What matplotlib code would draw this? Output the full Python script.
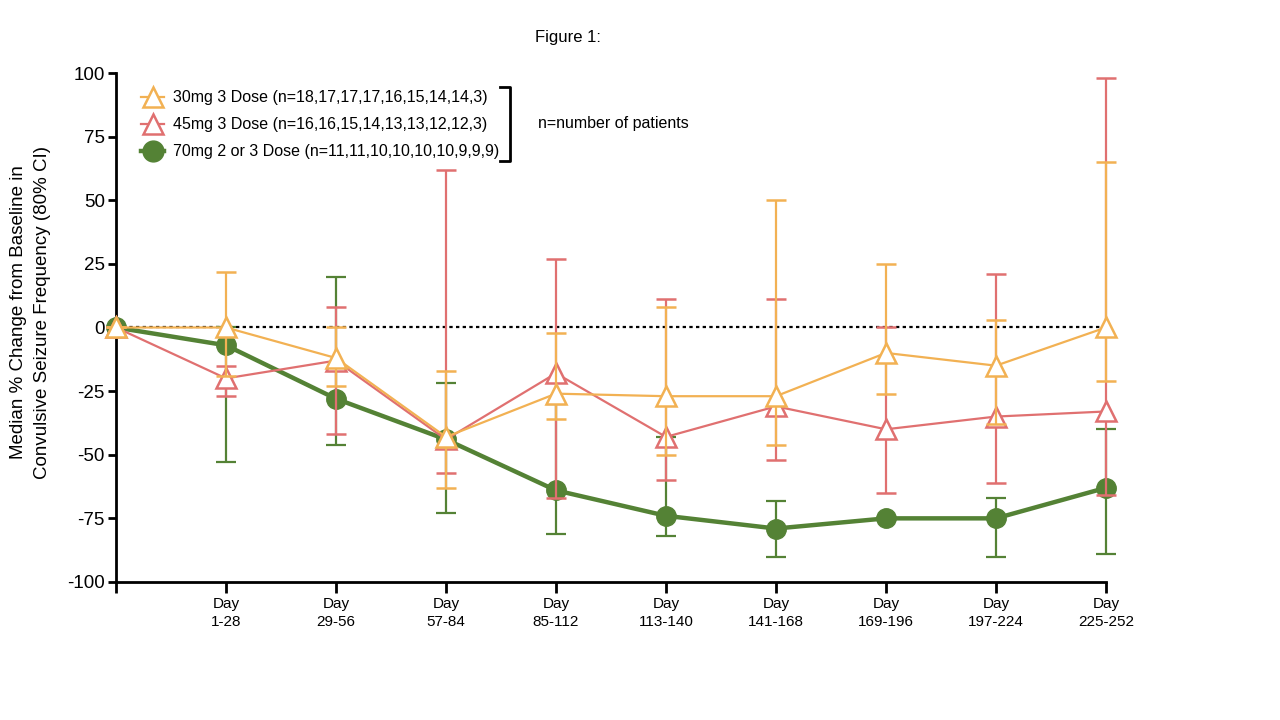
import numpy as np
import matplotlib.pyplot as plt
from matplotlib.lines import Line2D

plt.rcParams['font.family'] = ['Liberation Sans', 'DejaVu Sans']
plt.rcParams['axes.unicode_minus'] = False

periods = ['', 'Day\n1-28', 'Day\n29-56', 'Day\n57-84', 'Day\n85-112', 'Day\n113-140',
           'Day\n141-168', 'Day\n169-196', 'Day\n197-224', 'Day\n225-252']

# median % change and 80% CI bounds
med30 = [0, 0, -12, -43, -26, -27, -27, -10, -15, 0]
hi30 = [0, 22, 0, -17, -2, 8, 50, 25, 3, 65]
lo30 = [0, -19, -23, -63, -36, -50, -46, -26, -38, -21]

med45 = [0, -20, -13, -44, -18, -43, -31, -40, -35, -33]
hi45 = [0, -15, 8, 62, 27, 11, 11, 0, 21, 98]
lo45 = [0, -27, -42, -57, -67, -60, -52, -65, -61, -66]

med70 = [0, -7, -28, -44, -64, -74, -79, -75, -75, -63]
hi70 = [0, 0, 20, -22, -30, -43, -68, -75, -67, -40]
lo70 = [0, -53, -46, -73, -81, -82, -90, -75, -90, -89]

lab30 = '30mg 3 Dose (n=18,17,17,17,16,15,14,14,3)'
lab45 = '45mg 3 Dose (n=16,16,15,14,13,13,12,12,3)'
lab70 = '70mg 2 or 3 Dose (n=11,11,10,10,10,10,9,9,9)'

c30 = '#F2B153'
c45 = '#E07070'
c70 = '#548235'

x = np.arange(len(periods))

fig = plt.figure(figsize=(12.8, 7.2), dpi=100)
ax = fig.add_axes([0.0906, 0.1917, 0.7734, 0.7069])

ax.plot([0, 9], [0, 0], color='black', linestyle=(0, (1.5, 1.5)), linewidth=1.6, zorder=1)

def yerr(med, lo, hi):
    med = np.array(med); lo = np.array(lo); hi = np.array(hi)
    return [med - lo, hi - med]

def unclip(cont):
    for a in cont.get_children():
        a.set_clip_on(False)

e70 = ax.errorbar(x, med70, yerr=yerr(med70, lo70, hi70), color=c70, linewidth=3.2,
                  elinewidth=1.6, capsize=7.5, capthick=1.6, marker='o', markersize=14,
                  markerfacecolor=c70, markeredgecolor=c70, zorder=2)
e45 = ax.errorbar(x, med45, yerr=yerr(med45, lo45, hi45), color=c45, linewidth=1.6,
                  elinewidth=1.6, capsize=7.5, capthick=1.6, marker='^', markersize=14,
                  markerfacecolor='white', markeredgecolor=c45, markeredgewidth=1.8,
                  zorder=3)
e30 = ax.errorbar(x, med30, yerr=yerr(med30, lo30, hi30), color=c30, linewidth=1.6,
                  elinewidth=1.6, capsize=7.5, capthick=1.6, marker='^', markersize=14,
                  markerfacecolor='white', markeredgecolor=c30, markeredgewidth=1.8,
                  zorder=4)
for e in [e70, e45, e30]:
    unclip(e)

ax.set_xlim(0, 9)
ax.set_ylim(-100, 100)
ax.set_yticks([100, 75, 50, 25, 0, -25, -50, -75, -100])
ax.set_xticks(x)
ax.set_xticklabels(periods, fontsize=11, linespacing=1.35)
ax.tick_params(axis='y', labelsize=13.5, width=2, length=6, pad=2)
ax.tick_params(axis='x', width=2, length=8, pad=3)
for s in ['top', 'right']:
    ax.spines[s].set_visible(False)
for s in ['left', 'bottom']:
    ax.spines[s].set_linewidth(2)
ax.spines['bottom'].set_bounds(0, 9)

ax.set_ylabel('Median % Change from Baseline in\nConvulsive Seizure Frequency (80% CI)',
              fontsize=13.5, linespacing=1.5)
ax.yaxis.set_label_coords(-0.066, 0.53)

h30 = Line2D([], [], color=c30, linewidth=1.6, marker='^', markersize=15,
             markerfacecolor='white', markeredgecolor=c30, markeredgewidth=1.8)
h45 = Line2D([], [], color=c45, linewidth=1.6, marker='^', markersize=15,
             markerfacecolor='white', markeredgecolor=c45, markeredgewidth=1.8)
h70 = Line2D([], [], color=c70, linewidth=3.2, marker='o', markersize=15,
             markerfacecolor=c70, markeredgecolor=c70)
leg = ax.legend(handles=[h30, h45, h70], labels=[lab30, lab45, lab70], loc='upper left',
                bbox_to_anchor=(0.016, 0.985), frameon=False, fontsize=11.5,
                handlelength=1.4, handletextpad=0.6, labelspacing=0.75, borderaxespad=0.2)

# bracket next to legend
bx = 0.398
ax.plot([bx - 0.01, bx, bx, bx - 0.01], [0.9725, 0.9725, 0.827, 0.827],
        color='black', linewidth=2, transform=ax.transAxes, clip_on=False)
ax.text(bx + 0.028, 0.9, 'n=number of patients', transform=ax.transAxes,
        fontsize=11.5, va='center', ha='left')

fig.text(0.444, 0.948, 'Figure 1:', fontsize=12, ha='center', va='center')

fig.savefig('out.png', dpi=100)
